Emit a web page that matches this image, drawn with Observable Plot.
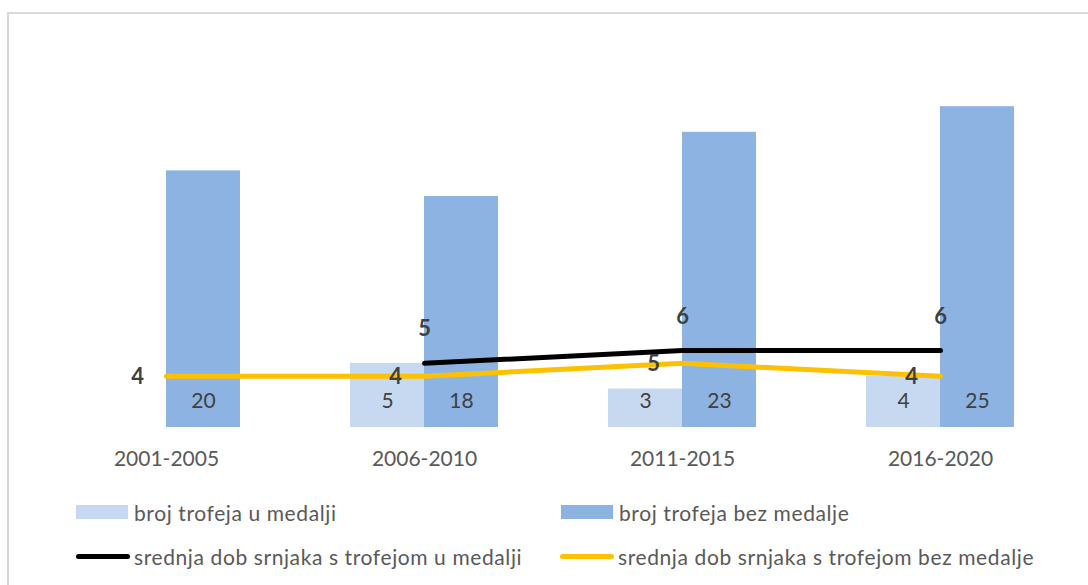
<!DOCTYPE html>
<html>
<head>
<meta charset="utf-8">
<script src="https://cdn.jsdelivr.net/npm/d3@7"></script>
<script src="https://cdn.jsdelivr.net/npm/@observablehq/plot@0.6"></script>
<style>
  html, body { margin: 0; padding: 0; background: #fff; overflow: hidden; }
  #wrap { position: relative; width: 1088px; height: 585px; font-family: Lato, "Open Sans", sans-serif; }
  #frame { position: absolute; left: 7px; top: 12px; width: 1200px; height: 700px;
           border-left: 2px solid #d9d9d9; border-top: 2px solid #d9d9d9; pointer-events: none; }
  #chart { position: absolute; left: 0; top: 0; }
  .leg { position: absolute; display: flex; align-items: center; height: 26px;
         font-size: 21px; letter-spacing: 0.6px; color: #595959; white-space: nowrap; }
  .sw-rect { width: 52px; height: 14px; margin-right: 6px; }
  .sw-line { width: 54px; height: 5px; border-radius: 3px; margin-right: 4px; }
</style>
</head>
<body>
<div id="wrap">
  <div id="chart"></div>
  <div id="legend"></div>
  <div id="frame"></div>
</div>
<script>
const periods = ["2001-2005", "2006-2010", "2011-2015", "2016-2020"];
const trophiesMedal = [null, 5, 3, 4];
const trophiesNoMedal = [20, 18, 23, 25];
const ageMedal = [null, 5, 6, 6];
const ageNoMedal = [4, 4, 5, 4];

const seriesNames = {
  trophiesMedal: "broj trofeja u medalji",
  trophiesNoMedal: "broj trofeja bez medalje",
  ageMedal: "srednja dob srnjaka s trofejom u medalji",
  ageNoMedal: "srednja dob srnjaka s trofejom bez medalje"
};
const colors = {
  trophiesMedal: "#c6d9f1",
  trophiesNoMedal: "#8db3e2",
  ageMedal: "#000000",
  ageNoMedal: "#ffc000"
};

const rows = periods.map((p, i) => ({
  period: p,
  trophiesMedal: trophiesMedal[i],
  trophiesNoMedal: trophiesNoMedal[i],
  ageMedal: ageMedal[i],
  ageNoMedal: ageNoMedal[i]
}));
const medalRows = rows.filter(d => d.trophiesMedal != null);
const ageMedalRows = rows.filter(d => d.ageMedal != null);

const plot = Plot.plot({
  width: 1088,
  height: 480,
  marginTop: 42,
  marginBottom: 53,
  marginLeft: 37,
  marginRight: 19,
  style: { background: "transparent", fontFamily: "Lato, 'Open Sans', sans-serif" },
  x: { type: "band", domain: periods, padding: 0, axis: null },
  y: { domain: [0, 30], axis: null },
  marks: [
    Plot.barY(medalRows, { x: "period", y: "trophiesMedal", fill: colors.trophiesMedal, insetLeft: 55, insetRight: 129 }),
    Plot.barY(rows, { x: "period", y: "trophiesNoMedal", fill: colors.trophiesNoMedal, insetLeft: 129, insetRight: 55 }),
    Plot.text(medalRows, { x: "period", y: d => 0, text: "trophiesMedal", dx: -37, dy: -26, fontSize: 21, fill: "#404040" }),
    Plot.text(rows, { x: "period", y: d => 0, text: "trophiesNoMedal", dx: 37, dy: -26, fontSize: 21, fill: "#404040" }),
    Plot.line(rows, { x: "period", y: "ageMedal", stroke: colors.ageMedal, strokeWidth: 5, strokeLinecap: "round" }),
    Plot.line(rows, { x: "period", y: "ageNoMedal", stroke: colors.ageNoMedal, strokeWidth: 5, strokeLinecap: "round" }),
    Plot.text(ageMedalRows, { x: "period", y: "ageMedal", text: "ageMedal", dy: -34, fontSize: 22, fontWeight: "bold", fill: "#404040" }),
    Plot.text(rows, { x: "period", y: "ageNoMedal", text: "ageNoMedal", dx: -29, dy: 1, fontSize: 22, fontWeight: "bold", fill: "#404040" }),
    Plot.text(rows, { x: "period", y: d => 0, text: "period", dy: 32, fontSize: 21, fill: "#595959" })
  ]
});
document.getElementById("chart").appendChild(plot);

const legendItems = [
  { key: "trophiesMedal", kind: "rect", left: 76, top: 499 },
  { key: "trophiesNoMedal", kind: "rect", left: 561, top: 499 },
  { key: "ageMedal", kind: "line", left: 76, top: 543 },
  { key: "ageNoMedal", kind: "line", left: 560, top: 543 }
];
const legend = document.getElementById("legend");
for (const it of legendItems) {
  const div = document.createElement("div");
  div.className = "leg";
  div.style.left = it.left + "px";
  div.style.top = it.top + "px";
  const sw = document.createElement("span");
  sw.className = it.kind === "rect" ? "sw-rect" : "sw-line";
  sw.style.background = colors[it.key];
  const tx = document.createElement("span");
  tx.textContent = seriesNames[it.key];
  div.appendChild(sw);
  div.appendChild(tx);
  legend.appendChild(div);
}
</script>
</body>
</html>
